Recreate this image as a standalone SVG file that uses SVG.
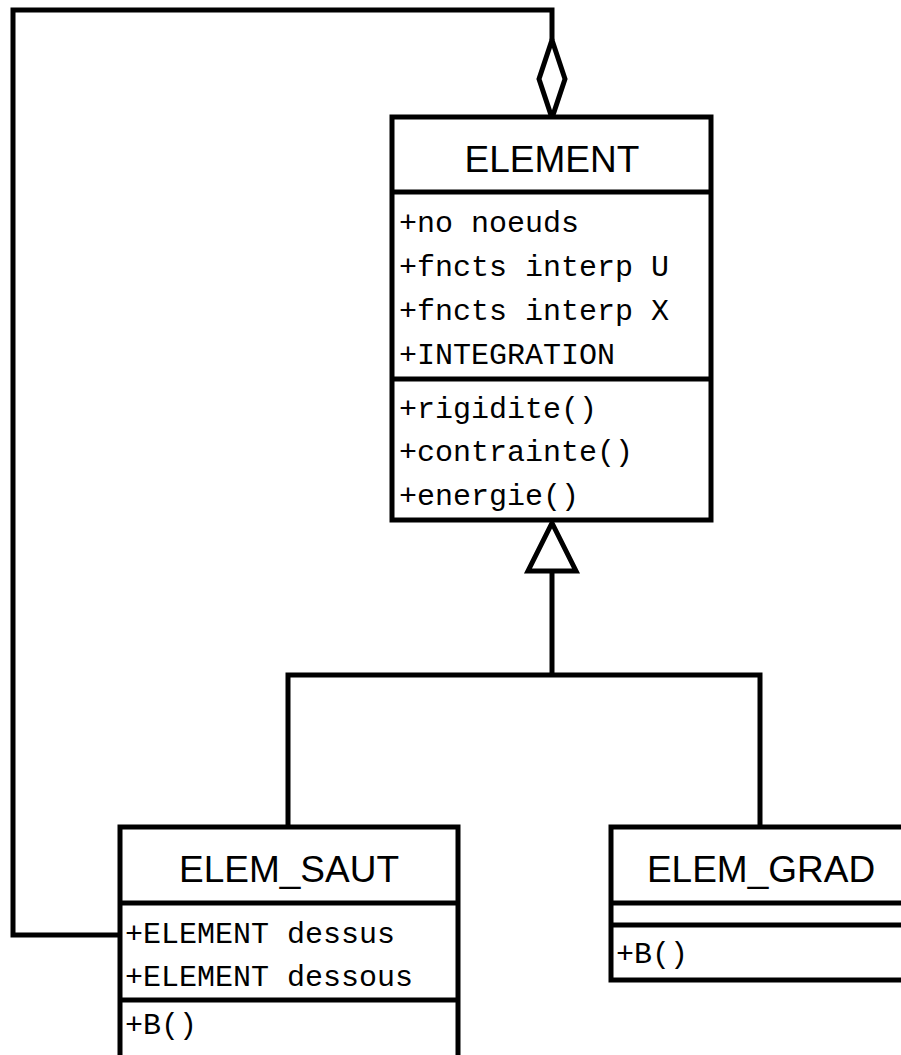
<svg xmlns="http://www.w3.org/2000/svg" width="901" height="1055" viewBox="0 0 901 1055">
<style>
.box{fill:#fff;stroke:#000;stroke-width:5}
.div{stroke:#000;stroke-width:5}
.conn{fill:none;stroke:#000;stroke-width:5}
.title{font-family:"Liberation Sans",Arial,sans-serif;font-size:37px;fill:#000;text-anchor:middle}
.mono{font-family:"Liberation Mono","Courier New",monospace;font-size:30px;fill:#000}
</style>
<rect width="901" height="1055" fill="#fff"/>
<g id="connectors">
<polyline class="conn" points="552,40 552,10 13,10 13,935 120,935"/>
<polygon class="conn" points="552,40 565,79 552,118 539,79" fill="#fff"/>
<polyline class="conn" points="288,827 288,675 760,675 760,827"/>
<line class="conn" x1="552" y1="675" x2="552" y2="572"/>
<polygon class="conn" points="552,523 576,571 528,571" fill="#fff"/>
</g>
<g id="ELEMENT">
<rect class="box" x="392" y="117" width="319" height="403"/>
<line class="div" x1="392" y1="192" x2="711" y2="192"/>
<line class="div" x1="392" y1="379" x2="711" y2="379"/>
<text class="title" x="552" y="172">ELEMENT</text>
<text class="mono" x="399" y="232">+no noeuds</text>
<text class="mono" x="399" y="276">+fncts interp U</text>
<text class="mono" x="399" y="320">+fncts interp X</text>
<text class="mono" x="399" y="364">+INTEGRATION</text>
<text class="mono" x="399" y="418">+rigidite()</text>
<text class="mono" x="399" y="461">+contrainte()</text>
<text class="mono" x="399" y="505">+energie()</text>
</g>
<g id="ELEM_SAUT">
<rect class="box" x="120" y="827" width="338" height="240"/>
<line class="div" x1="120" y1="903" x2="458" y2="903"/>
<line class="div" x1="120" y1="1000" x2="458" y2="1000"/>
<text class="title" x="289" y="882">ELEM_SAUT</text>
<text class="mono" x="125" y="943">+ELEMENT dessus</text>
<text class="mono" x="125" y="986">+ELEMENT dessous</text>
<text class="mono" x="125" y="1034">+B()</text>
</g>
<g id="ELEM_GRAD">
<rect class="box" x="611" y="827" width="300" height="153"/>
<line class="div" x1="611" y1="903" x2="911" y2="903"/>
<line class="div" x1="611" y1="925" x2="911" y2="925"/>
<text class="title" x="761" y="882">ELEM_GRAD</text>
<text class="mono" x="616" y="963">+B()</text>
</g>
</svg>
